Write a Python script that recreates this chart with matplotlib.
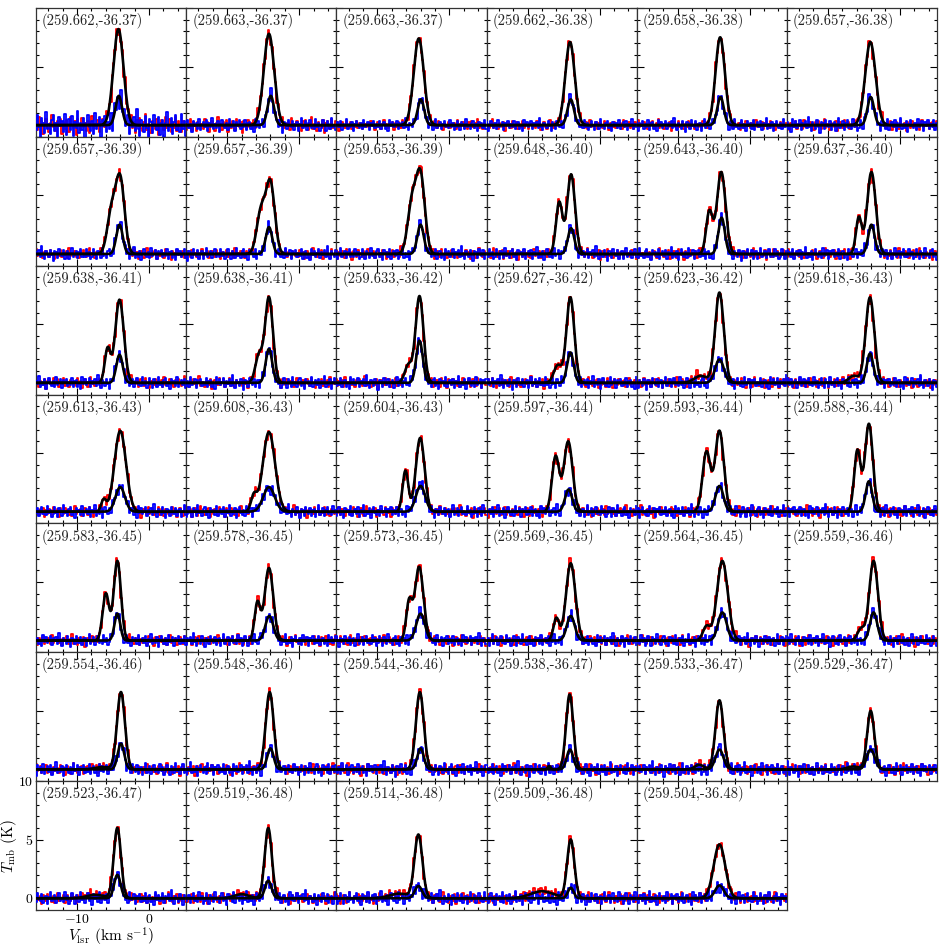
import numpy as np
import matplotlib
matplotlib.use("Agg")
import matplotlib.pyplot as plt
from matplotlib.ticker import MultipleLocator

plt.rcParams['font.family'] = ['cmr10', 'DejaVu Serif']
plt.rcParams['mathtext.fontset'] = 'cm'
plt.rcParams['axes.formatter.use_mathtext'] = True
plt.rcParams['axes.unicode_minus'] = True

# ---------------- data ----------------
positions = [
    "(259.662,-36.37)", "(259.663,-36.37)", "(259.663,-36.37)", "(259.662,-36.38)", "(259.658,-36.38)", "(259.657,-36.38)",
    "(259.657,-36.39)", "(259.657,-36.39)", "(259.653,-36.39)", "(259.648,-36.40)", "(259.643,-36.40)", "(259.637,-36.40)",
    "(259.638,-36.41)", "(259.638,-36.41)", "(259.633,-36.42)", "(259.627,-36.42)", "(259.623,-36.42)", "(259.618,-36.43)",
    "(259.613,-36.43)", "(259.608,-36.43)", "(259.604,-36.43)", "(259.597,-36.44)", "(259.593,-36.44)", "(259.588,-36.44)",
    "(259.583,-36.45)", "(259.578,-36.45)", "(259.573,-36.45)", "(259.569,-36.45)", "(259.564,-36.45)", "(259.559,-36.46)",
    "(259.554,-36.46)", "(259.548,-36.46)", "(259.544,-36.46)", "(259.538,-36.47)", "(259.533,-36.47)", "(259.529,-36.47)",
    "(259.523,-36.47)", "(259.519,-36.48)", "(259.514,-36.48)", "(259.509,-36.48)", "(259.504,-36.48)",
]

# main component of the red-spectrum fit (K, km/s, km/s)
main_amp = [8.2, 7.8, 7.4, 7.1, 7.5, 7.1,
            6.3, 6.0, 6.6, 6.8, 7.0, 7.0,
            7.1, 7.3, 7.4, 7.3, 7.7, 7.3,
            6.9, 6.8, 6.3, 6.0, 6.9, 7.5,
            6.8, 6.2, 6.3, 6.6, 6.8, 6.8,
            6.6, 6.6, 6.6, 6.4, 5.9, 5.0,
            6.0, 6.0, 5.4, 5.0, 4.6]
main_vel = [-4.25, -4.2, -4.25, -4.1, -4.1, -4.1,
            -4.0, -4.0, -4.0, -3.95, -3.95, -3.95,
            -4.1, -4.2, -4.15, -4.05, -4.2, -4.15,
            -4.0, -4.2, -4.05, -4.35, -4.2, -4.3,
            -4.4, -4.2, -4.2, -4.0, -3.8, -3.65,
            -3.9, -4.1, -4.1, -4.15, -4.2, -4.05,
            -4.4, -4.3, -4.3, -4.0, -4.2]
main_sig = [0.70, 0.72, 0.70, 0.65, 0.65, 0.72,
            0.60, 0.60, 0.60, 0.55, 0.60, 0.60,
            0.60, 0.55, 0.55, 0.55, 0.60, 0.60,
            0.80, 0.85, 0.60, 0.60, 0.60, 0.55,
            0.50, 0.60, 0.60, 0.65, 0.75, 0.60,
            0.55, 0.55, 0.55, 0.50, 0.55, 0.50,
            0.50, 0.50, 0.55, 0.50, 0.80]

# secondary component of the red-spectrum fit
sec_amp = [0.0, 0.0, 0.0, 0.0, 0.0, 0.0,
           3.6, 3.6, 4.3, 4.4, 3.6, 3.1,
           2.9, 2.3, 1.5, 1.5, 0.6, 0.6,
           1.0, 1.3, 3.5, 4.7, 5.1, 5.2,
           4.0, 3.2, 3.2, 1.9, 1.2, 1.0,
           0.2, 0.0, 0.0, 0.3, 0.4, 0.25,
           0.3, 0.35, 0.4, 0.6, 0.0]
sec_vel = [-6.0, -6.0, -6.0, -6.0, -6.0, -6.0,
           -5.2, -5.3, -5.2, -5.6, -5.6, -5.7,
           -5.75, -5.6, -5.7, -5.8, -6.8, -6.4,
           -6.3, -6.3, -6.1, -6.1, -6.0, -5.9,
           -6.0, -5.8, -5.6, -6.0, -6.0, -5.4,
           -6.5, -6.0, -6.0, -7.0, -7.0, -6.5,
           -7.5, -8.0, -7.0, -8.0, -6.0]
sec_sig = [0.5, 0.5, 0.5, 0.5, 0.5, 0.5,
           0.60, 0.60, 0.60, 0.45, 0.45, 0.40,
           0.40, 0.50, 0.50, 0.55, 0.90, 0.70,
           0.35, 0.40, 0.40, 0.50, 0.55, 0.45,
           0.45, 0.40, 0.40, 0.40, 0.50, 0.50,
           1.00, 0.50, 0.50, 0.20, 0.60, 0.80,
           1.20, 1.00, 1.30, 1.60, 0.50]

# fit of the blue spectrum
weak_amp = [2.5, 2.5, 2.2, 2.2, 2.4, 2.4,
            2.5, 2.3, 2.5, 2.2, 3.1, 2.5,
            2.4, 2.9, 3.6, 2.6, 2.0, 2.5,
            2.1, 2.1, 2.2, 1.9, 2.2, 2.6,
            2.3, 2.1, 2.3, 2.1, 2.4, 2.4,
            2.2, 1.8, 1.8, 1.7, 1.7, 1.7,
            2.0, 1.5, 1.05, 0.9, 1.1]
weak_vel = [-4.2, -3.95, -3.95, -4.0, -4.05, -4.05,
            -4.1, -4.2, -4.0, -3.95, -3.9, -3.95,
            -4.1, -4.2, -4.15, -4.05, -4.2, -4.15,
            -4.0, -4.2, -4.0, -4.3, -4.2, -4.3,
            -4.4, -4.15, -4.0, -4.0, -3.8, -3.65,
            -3.9, -4.0, -4.0, -4.1, -4.2, -4.05,
            -4.4, -4.3, -4.3, -4.0, -4.2]
weak_sig = [0.45, 0.45, 0.45, 0.45, 0.45, 0.45,
            0.45, 0.45, 0.45, 0.45, 0.45, 0.45,
            0.45, 0.45, 0.45, 0.45, 0.60, 0.45,
            0.65, 0.80, 0.65, 0.50, 0.55, 0.45,
            0.40, 0.55, 0.60, 0.55, 0.60, 0.50,
            0.45, 0.45, 0.45, 0.45, 0.55, 0.55,
            0.45, 0.45, 0.50, 0.40, 0.60]

# noise level of red / blue spectra in each panel (K)
red_rms = [0.55, 0.42, 0.30, 0.30, 0.30, 0.32] + [0.32] * 24 + [0.33] * 11
blue_rms = [0.75, 0.40, 0.33, 0.33, 0.36, 0.40] + [0.36] * 24 + [0.38] * 11

# residual patterns (unit rms), shifted per panel
red_resid = [0.3, -0.8, 1.2, -0.2, 0.6, -1.4, 0.1, 0.9, -0.5, -1.1,
             0.4, 1.6, -0.3, 0.2, -0.9, 0.7, -0.1, 1.0, -1.3, 0.5,
             -0.6, 0.8, -0.2, -1.0, 1.3, 0.0, -0.4, 0.6, -1.5, 0.9,
             0.2, -0.7, 1.1, -0.3, 0.4, -0.9, 0.7, -1.2, 0.3, 1.4,
             -0.6, 0.1, -0.2, 0.8, -1.1, 0.5, 0.9, -0.4, -0.8, 1.2,
             -0.1, 0.3, -1.3, 0.6, 0.0, -0.5, 1.0, -0.9, 0.4, -0.3,
             0.7, -1.0, 1.5, -0.6, 0.2, -0.2, 0.9, -0.7, 0.3, -1.2,
             0.8, -0.1, 1.1, -0.4, -0.9, 0.5, 1.7, -0.8, 0.2, -0.3,
             -1.2, 0.6, 0.1, -0.6, 1.0, -1.6, 0.4, 0.8, -0.2, -0.7,
             1.3, -0.5, 0.0, 0.9, -1.0, 0.3, -0.4, 1.2, -0.9, 0.6,
             -0.1, -1.1, 0.7, 0.2, -0.5]
blue_resid = [-0.6, 1.1, -0.2, -1.3, 0.8, 0.3, -0.9, 1.5, -0.4, 0.1,
              -1.0, 0.6, 1.2, -0.7, 0.2, -1.4, 0.9, -0.1, 0.5, -0.8,
              1.3, -1.1, 0.0, 0.7, -0.5, 1.0, -1.2, 0.4, -0.3, 1.6,
              -0.9, 0.2, -0.6, 0.8, -1.5, 0.3, 1.1, -0.2, -0.7, 0.5,
              -1.0, 1.4, -0.4, 0.1, 0.9, -1.3, 0.6, -0.1, 1.0, -0.8,
              0.3, -0.5, 1.2, -1.1, 0.4, 0.7, -0.9, 0.0, -1.4, 1.3,
              -0.3, 0.8, -0.6, 0.2, 1.1, -1.0, 0.5, -0.2, 0.9, -0.7,
              1.8, -0.4, -1.2, 0.6, 0.1, -0.8, 1.0, -0.3, -1.6, 0.7,
              0.4, -0.9, 1.2, -0.1, -0.5, 0.9, -1.1, 0.3, 0.6, -1.3,
              0.2, 1.5, -0.7, -0.2, 0.8, -1.0, 0.4, 1.1, -0.6, 0.0,
              -0.8, 1.3, -0.4, 0.5, -1.2]

channel_vel = np.arange(len(red_resid)) * 0.2 - 15.7   # channel centres (km/s)

# ---------------- figure ----------------
nrow, ncol = 7, 6
fig, axes = plt.subplots(nrow, ncol, figsize=(9.41, 9.47), dpi=100, sharex=True, sharey=True)
fig.subplots_adjust(left=36 / 941, right=937 / 941, bottom=1 - 910 / 947, top=1 - 8 / 947,
                    wspace=0, hspace=0)

vfine = np.linspace(-15.7, 5.2, 600)


def gauss(v, a, c, s):
    return a * np.exp(-0.5 * ((v - c) / s) ** 2)


for k, ax in enumerate(axes.flat):
    if k >= len(positions):
        ax.set_visible(False)
        continue
    shift = (k * 11) % len(red_resid)
    rres = np.roll(np.array(red_resid), shift)
    bres = np.roll(np.array(blue_resid), -shift)

    fit_red_ch = gauss(channel_vel, main_amp[k], main_vel[k], main_sig[k])
    if sec_amp[k] > 0:
        fit_red_ch += gauss(channel_vel, sec_amp[k], sec_vel[k], sec_sig[k])
    fit_blue_ch = gauss(channel_vel, weak_amp[k], weak_vel[k], weak_sig[k])

    red_spec = fit_red_ch + red_rms[k] * rres
    blue_spec = fit_blue_ch + blue_rms[k] * bres

    ax.plot(channel_vel, red_spec, drawstyle='steps-mid', color='red', lw=1.3, zorder=2)
    ax.plot(channel_vel, blue_spec, drawstyle='steps-mid', color='blue', lw=1.3, zorder=3)

    fit_red = gauss(vfine, main_amp[k], main_vel[k], main_sig[k])
    if sec_amp[k] > 0:
        fit_red += gauss(vfine, sec_amp[k], sec_vel[k], sec_sig[k])
    fit_blue = gauss(vfine, weak_amp[k], weak_vel[k], weak_sig[k])
    ax.plot(vfine, fit_red, color='black', lw=1.9, zorder=4)
    ax.plot(vfine, fit_blue, color='black', lw=1.9, zorder=4)

    ax.text(0.04, 0.96, positions[k], transform=ax.transAxes, ha='left', va='top',
            fontsize=10.5, color='#222222')

    ax.set_xlim(-15.7, 5.16)
    ax.set_ylim(-1.0, 10.0)
    ax.xaxis.set_major_locator(MultipleLocator(10))
    ax.xaxis.set_minor_locator(MultipleLocator(2))
    ax.yaxis.set_major_locator(MultipleLocator(5))
    ax.yaxis.set_minor_locator(MultipleLocator(1))
    ax.tick_params(which='both', direction='in', top=True, right=True, bottom=True, left=True,
                   labelbottom=False, labelleft=False, width=0.8)
    ax.tick_params(which='major', length=5)
    ax.tick_params(which='minor', length=2.5)
    for sp in ax.spines.values():
        sp.set_linewidth(0.9)
        sp.set_color('#333333')

ax0 = axes[6, 0]
ax0.tick_params(labelbottom=True, labelleft=True, labelsize=10, pad=2)
ax0.set_xlabel(r'$V_{\rm lsr}$ (km s$^{-1}$)', fontsize=11)
ax0.set_ylabel(r'$T_{\rm mb}$ (K)', fontsize=11)
ax0.xaxis.set_label_coords(0.5, -0.125)
ax0.yaxis.set_label_coords(-0.115, 0.5)

fig.savefig('out.png', dpi=100)
